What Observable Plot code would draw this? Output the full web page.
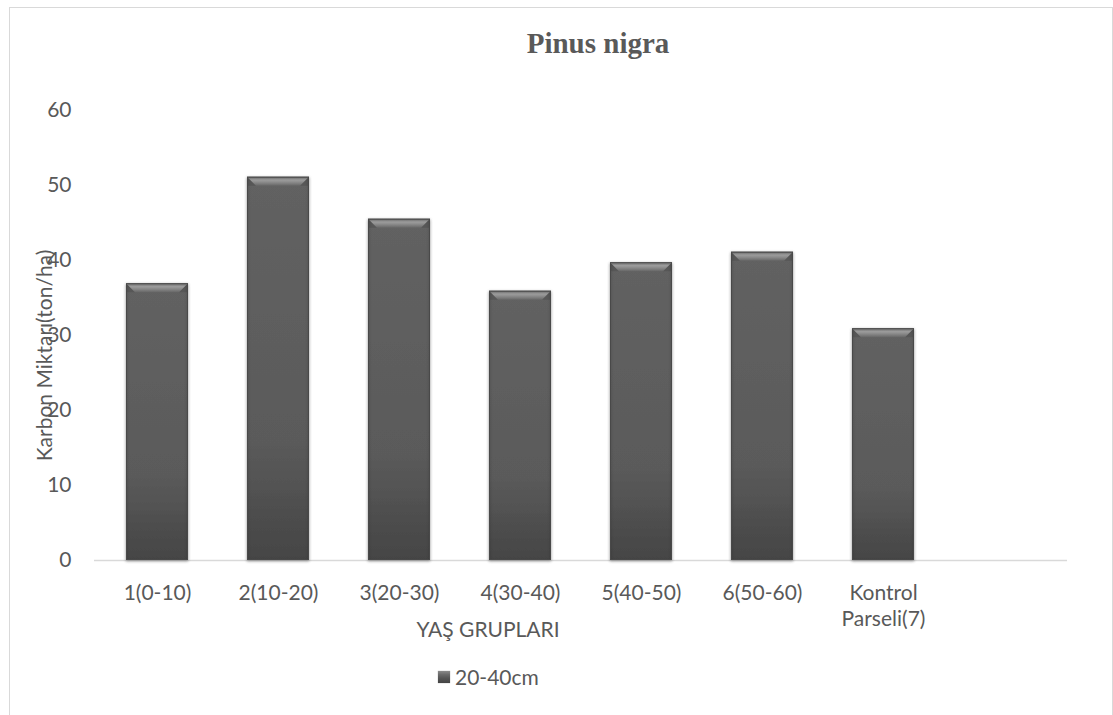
<!DOCTYPE html>
<html>
<head>
<meta charset="utf-8">
<script src="https://cdn.jsdelivr.net/npm/d3@7"></script>
<script src="https://cdn.jsdelivr.net/npm/@observablehq/plot@0.6"></script>
<style>
  body { margin: 0; background: #fff; }
  #page { position: relative; width: 1113px; height: 715px; overflow: hidden; font-family: Lato, "Open Sans", sans-serif; color: #595959; }
  #frame { position: absolute; left: 9px; top: 7px; width: 1104px; height: 800px; border: 1px solid #d9d9d9; box-sizing: border-box; }
  #title { position: absolute; left: 448px; width: 300px; top: 25px; text-align: center; font-family: "Liberation Serif", "DejaVu Serif", serif; font-weight: bold; font-size: 29px; line-height: 36px; color: #595959; }
  #chart { position: absolute; left: 0; top: 80px; }
  #legend { position: absolute; left: 438px; top: 664px; display: flex; align-items: center; gap: 5px; font-size: 21px; line-height: 26px; }
  #legend .swatch { width: 12px; height: 12px; background: linear-gradient(#8a8a8a 0, #6a6a6a 30%, #555 60%, #444 100%); box-shadow: 0 0 1px rgba(0,0,0,0.4); }
</style>
</head>
<body>
<div id="page">
  <div id="frame"></div>
  <div id="title">Pinus nigra</div>
  <div id="chart"></div>
  <div id="legend"><span class="swatch"></span><span id="series-name"></span></div>
</div>
<script>
// Soil carbon stock (ton/ha) at 20-40 cm depth, by stand age group
const categories = ["1(0-10)", "2(10-20)", "3(20-30)", "4(30-40)", "5(40-50)", "6(50-60)", "Kontrol\nParseli(7)"];
const values = [36.9, 51.1, 45.5, 35.9, 39.7, 41.1, 30.9];
const seriesName = "20-40cm";
const yTicks = [0, 10, 20, 30, 40, 50, 60];
const xTitle = "YAŞ GRUPLARI";
const yTitle = "Karbon Miktarı(ton/ha)";

// the category axis keeps one trailing empty slot
const slots = [...categories, ""];
const rows = categories.map((c, i) => ({category: c, value: values[i]}));

document.getElementById("series-name").textContent = seriesName;

const NS = "http://www.w3.org/2000/svg";
function el(name, attrs) {
  const e = document.createElementNS(NS, name);
  for (const k in attrs) e.setAttribute(k, attrs[k]);
  return e;
}
function gradient(id, stops) {
  const g = el("linearGradient", {id, x1: 0, y1: 0, x2: 0, y2: 1});
  for (const [o, c] of stops) g.appendChild(el("stop", {offset: o, "stop-color": c}));
  return g;
}

// gradients and shadow used by the bars
const defsMark = () => {
  const defs = el("defs", {});
  defs.appendChild(gradient("barBody", [[0, "#626262"], [0.7, "#5a5a5a"], [1, "#454545"]]));
  defs.appendChild(gradient("bevelTop", [[0, "#707070"], [0.35, "#a2a2a2"], [1, "#676767"]]));
  const f = el("filter", {id: "barShadow", x: "-20%", y: "-20%", width: "140%", height: "140%"});
  f.appendChild(el("feDropShadow", {dx: 0, dy: 1, stdDeviation: 1.6, "flood-color": "#000", "flood-opacity": 0.3}));
  defs.appendChild(f);
  return defs;
};

// adds a bevelled top edge to each rendered bar
function bevel(index, scales, vals, dims, context, next) {
  const g = next(index, scales, vals, dims, context);
  const b = 9;
  d3.select(g).selectAll("rect").each(function () {
    const x = +this.getAttribute("x"), y = +this.getAttribute("y");
    const w = +this.getAttribute("width"), h = +this.getAttribute("height");
    const parent = this.parentNode;
    const add = (pts, fill) => parent.appendChild(el("polygon", {points: pts.map(p => p.join(",")).join(" "), fill}));
    add([[x, y], [x + b, y + b], [x, y + b]], "#575757");
    add([[x + w, y], [x + w - b, y + b], [x + w, y + b]], "#575757");
    add([[x, y], [x + w, y], [x + w - b, y + b], [x + b, y + b]], "url(#bevelTop)");
    parent.appendChild(el("rect", {x: x + 0.5, y: y + 0.5, width: w - 1, height: h - 1, fill: "none", stroke: "#4a4a4a", "stroke-width": 1}));
  });
  return g;
}

const chart = Plot.plot({
  width: 1113,
  height: 580,
  marginTop: 30,
  marginBottom: 100,
  marginLeft: 94,
  marginRight: 46,
  style: {fontFamily: "Lato, 'Open Sans', sans-serif", color: "#595959", background: "transparent", overflow: "visible"},
  x: {domain: slots, paddingInner: 0.49, paddingOuter: 0.245},
  y: {domain: [0, 60]},
  marks: [
    defsMark,
    Plot.ruleY([0], {stroke: "#d9d9d9", strokeWidth: 1.5}),
    Plot.barY(rows, {x: "category", y: "value", fill: "url(#barBody)", render: bevel}),
    Plot.axisX({tickSize: 0, tickPadding: 21, fontSize: 21, lineHeight: 1.24, label: null, fill: "#595959"}),
    Plot.axisY({ticks: yTicks, tickSize: 0, tickPadding: 23, fontSize: 21, label: null, fill: "#595959"}),
    Plot.text([xTitle], {frameAnchor: "bottom", dx: -93, dy: 70, fontSize: 21, fill: "#595959", lineAnchor: "middle"}),
    Plot.text([yTitle], {frameAnchor: "left", rotate: -90, dx: -49, dy: 20, fontSize: 21, fill: "#595959", textAnchor: "middle", lineAnchor: "middle"})
  ]
});
d3.select(chart).selectAll("g[aria-label='bar'] rect").attr("filter", "url(#barShadow)");
document.getElementById("chart").appendChild(chart);
</script>
</body>
</html>
